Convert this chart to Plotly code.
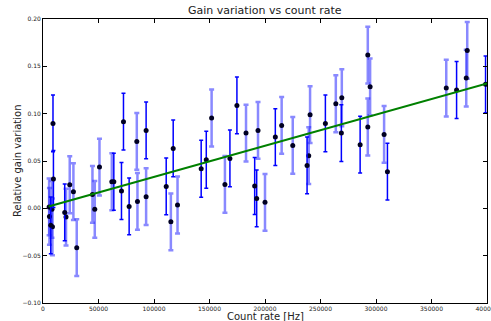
import plotly.graph_objects as go

# Solid (dark blue error bars) series
solid_x = [9000, 7000, 9400, 19570, 63800, 70700, 72500, 77600, 92900, 111000,
           117300, 142500, 147100, 168400, 174700, 190700, 192500, 209300,
           237900, 254400, 268800, 285700, 310300, 372600, 398700]
solid_y = [0.0897, -0.018, 0.031, -0.0043, 0.0281, 0.0183, 0.0915, 0.002, 0.0823, 0.0231,
           0.0633, 0.0418, 0.0513, 0.0527, 0.1087, 0.0236, 0.0105, 0.0753,
           0.0453, 0.0897, 0.0795, 0.0672, 0.0387, 0.125, 0.131]
solid_err = [0.03] * len(solid_x)

# Light (translucent error bars) series
light_x = [5500, 5800, 8100, 8500, 20750, 24090, 27400, 30400, 44550, 46640, 50870,
           62000, 84500, 85100, 92900, 115200, 121200, 151900, 163900, 182900,
           193700, 200000, 215000, 225000, 239400, 240600, 263800, 269200,
           292600, 292600, 294700, 307300, 363300, 381300, 382200]
light_y = [0.0015, -0.0085, -0.001, -0.0195, -0.0092, 0.0249, 0.0176, -0.0416, 0.0147, -0.0011, 0.0436,
           0.0281, 0.0707, 0.0073, 0.0123, -0.0142, 0.0035, 0.0954, 0.0253, 0.0795,
           0.0823, 0.0063, 0.0876, 0.0665, 0.0556, 0.0989, 0.1105, 0.1168,
           0.1619, 0.0859, 0.1284, 0.0781, 0.127, 0.1376, 0.1668]
light_err = [0.03] * len(light_x)

# Linear fit endpoints
fit_x = [5000, 400000]
fit_y = [0.002, 0.132]

x_ticks = [0, 50000, 100000, 150000, 200000, 250000, 300000, 350000, 400000]
y_ticks = [-0.10, -0.05, 0.00, 0.05, 0.10, 0.15, 0.20]

fig = go.Figure()
fig.add_trace(go.Scatter(
    x=light_x, y=light_y, mode="markers",
    marker=dict(color="#000022", size=5),
    error_y=dict(type="data", array=light_err, color="rgba(40,40,255,0.55)",
                 thickness=2.5, width=2.5),
    showlegend=False))
fig.add_trace(go.Scatter(
    x=solid_x, y=solid_y, mode="markers",
    marker=dict(color="#000022", size=5),
    error_y=dict(type="data", array=solid_err, color="#0000ff",
                 thickness=1.5, width=2),
    showlegend=False))
fig.add_trace(go.Scatter(
    x=fit_x, y=fit_y, mode="lines",
    line=dict(color="#008000", width=2), showlegend=False))

axis_common = dict(showline=True, linecolor="black", linewidth=1, mirror="ticks",
                   ticks="inside", ticklen=4, tickcolor="black", showgrid=False,
                   zeroline=False, automargin=False, ticklabeloverflow="allow",
                   tickfont=dict(size=6, color="#222222", family="DejaVu Sans"))

fig.update_layout(
    width=491, height=321,
    margin=dict(l=43, r=4, t=19, b=18),
    paper_bgcolor="white", plot_bgcolor="white",
    font=dict(family="DejaVu Sans", color="#222222"),
    xaxis=dict(range=[0, 400000], tickvals=x_ticks,
               ticktext=[str(v) for v in x_ticks], **axis_common),
    yaxis=dict(range=[-0.10, 0.20], tickvals=y_ticks, tickformat=".2f",
               **axis_common),
    annotations=[
        dict(text="Gain variation vs count rate", x=0.5, y=1,
             xref="paper", yref="paper", xanchor="center", yanchor="bottom",
             showarrow=False, font=dict(size=11, color="#222222")),
        dict(text="Count rate [Hz]", x=0.5, y=0, xref="paper", yref="paper",
             xanchor="center", yanchor="middle", yshift=-13.5,
             showarrow=False, font=dict(size=10, color="#222222")),
        dict(text="Relative gain variation", x=0, y=0.5, xref="paper", yref="paper",
             xanchor="center", yanchor="middle", xshift=-26, textangle=-90,
             showarrow=False, font=dict(size=10, color="#222222")),
    ],
)

fig.write_html("out.html", config={"displayModeBar": False},
               post_script="document.body.style.margin='0';document.body.style.overflow='hidden';")
